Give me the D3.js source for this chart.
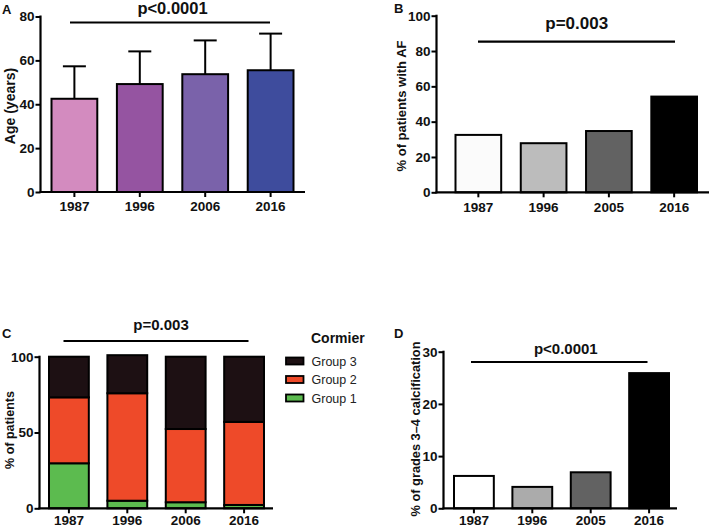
<!DOCTYPE html>
<html><head><meta charset="utf-8">
<script src="https://cdn.jsdelivr.net/npm/d3@7"></script>
<style>
html,body{margin:0;padding:0;background:#fff;}
svg{display:block;font-family:"Liberation Sans",Arial,sans-serif;}
</style></head>
<body>
<svg id="chart" width="709" height="527"></svg>
<script>
// ---- Data ----
const yearsA = ["1987", "1996", "2006", "2016"];
const ageMean = [42.5, 49.2, 53.7, 55.5];
const ageSD = [14.8, 14.9, 15.4, 16.7];
const colorsA = ["#d38bbf", "#9554a1", "#7a62aa", "#3e4c9d"];

const yearsB = ["1987", "1996", "2005", "2016"];
const afPct = [32.5, 27.8, 34.7, 54.2];
const colorsB = ["#fbfbfb", "#bcbcbc", "#626262", "#000000"];

const yearsC = ["1987", "1996", "2006", "2016"];
const group1 = [29.7, 5.0, 4.0, 2.2];
const group2 = [43.5, 70.9, 48.3, 54.8];
const group3 = [26.8, 25.1, 47.7, 43.0];
const groupNames = ["Group 1", "Group 2", "Group 3"];
const groupColors = ["#5cbb4f", "#ee4a29", "#1d1013"];

const yearsD = ["1987", "1996", "2005", "2016"];
const calcPct = [6.2, 4.1, 6.9, 25.9];
const colorsD = ["#ffffff", "#ababab", "#626262", "#000000"];

const ticksA = [0, 20, 40, 60, 80];
const ticksB = [0, 20, 40, 60, 80, 100];
const ticksC = [0, 50, 100];
const ticksD = [0, 10, 20, 30];

// ---- Drawing ----
const svg = d3.select("#chart");

function drawAxes(g, x, y, yTicks, axisX, axisEnd, y0, xPad) {
  const ya = g.append("g").attr("transform", `translate(${axisX},0)`)
    .call(d3.axisLeft(y).tickValues(yTicks).tickSize(5).tickSizeOuter(0).tickPadding(1));
  ya.select(".domain").remove();
  ya.selectAll(".tick line").attr("stroke", "#000").attr("stroke-width", 2);
  ya.selectAll(".tick text").attr("font-size", 13.5).attr("font-weight", "bold").attr("fill", "#111");
  g.append("line").attr("x1", axisX).attr("x2", axisX)
    .attr("y1", y(y.domain()[1]) - 1).attr("y2", y0 + 1)
    .attr("stroke", "#000").attr("stroke-width", 2.2);
  const xa = g.append("g").attr("transform", `translate(0,${y0})`)
    .call(d3.axisBottom(x).tickSize(5).tickSizeOuter(0).tickPadding(xPad));
  xa.select(".domain").remove();
  xa.selectAll(".tick line").attr("stroke", "#000").attr("stroke-width", 2);
  xa.selectAll(".tick text").attr("font-size", 13.5).attr("font-weight", "bold").attr("fill", "#111");
  g.append("line").attr("x1", axisX - 1).attr("x2", axisEnd)
    .attr("y1", y0).attr("y2", y0)
    .attr("stroke", "#000").attr("stroke-width", 2.2);
}

function sigBar(g, x1, x2, yLine, label, lx, ly, fs) {
  g.append("line").attr("x1", x1).attr("x2", x2).attr("y1", yLine).attr("y2", yLine)
    .attr("stroke", "#000").attr("stroke-width", 2.2);
  g.append("text").attr("x", lx).attr("y", ly).attr("text-anchor", "middle")
    .attr("font-size", fs).attr("font-weight", "bold").attr("fill", "#111").text(label);
}

function yTitle(g, cx, cy, label, fs) {
  g.append("text").attr("transform", `translate(${cx},${cy}) rotate(-90)`)
    .attr("text-anchor", "middle").attr("dominant-baseline", "central")
    .attr("font-size", fs).attr("font-weight", "bold").attr("fill", "#111").text(label);
}

function panelLabel(g, x, y, t) {
  g.append("text").attr("x", x).attr("y", y).attr("font-size", 13).attr("font-weight", "bold")
    .attr("fill", "#111").text(t);
}

// ---- Panel A ----
{
  const g = svg.append("g");
  const x = d3.scaleBand().domain(yearsA).range([51.5, 293.5]).paddingInner(0.3).paddingOuter(0);
  const y = d3.scaleLinear().domain([0, 80]).range([192, 16.5]);
  const bw = x.bandwidth();
  yearsA.forEach((yr, i) => {
    const cx = x(yr) + bw / 2;
    g.append("line").attr("x1", cx).attr("x2", cx).attr("y1", y(ageMean[i])).attr("y2", y(ageMean[i] + ageSD[i]))
      .attr("stroke", "#000").attr("stroke-width", 2);
    g.append("line").attr("x1", cx - 11.5).attr("x2", cx + 11.5)
      .attr("y1", y(ageMean[i] + ageSD[i])).attr("y2", y(ageMean[i] + ageSD[i]))
      .attr("stroke", "#000").attr("stroke-width", 2);
  });
  g.selectAll("rect").data(yearsA).join("rect")
    .attr("x", d => x(d)).attr("width", bw)
    .attr("y", (d, i) => y(ageMean[i])).attr("height", (d, i) => y(0) - y(ageMean[i]))
    .attr("fill", (d, i) => colorsA[i]).attr("stroke", "#000").attr("stroke-width", 2);
  drawAxes(g, x, y, ticksA, 40.5, 305, 192, 4);
  sigBar(g, 70, 270, 22.5, "p<0.0001", 172.5, 14, 16.5);
  yTitle(g, 10, 106, "Age (years)", 14);
  panelLabel(g, 2, 13.5, "A");
}

// ---- Panel B ----
{
  const g = svg.append("g");
  const x = d3.scaleBand().domain(yearsB).range([455.5, 697]).paddingInner(0.3).paddingOuter(0);
  const y = d3.scaleLinear().domain([0, 100]).range([192.3, 15.7]);
  const bw = x.bandwidth();
  g.selectAll("rect").data(yearsB).join("rect")
    .attr("x", d => x(d)).attr("width", bw)
    .attr("y", (d, i) => y(afPct[i])).attr("height", (d, i) => y(0) - y(afPct[i]))
    .attr("fill", (d, i) => colorsB[i]).attr("stroke", "#000").attr("stroke-width", 2);
  drawAxes(g, x, y, ticksB, 436.5, 709, 192.3, 5);
  sigBar(g, 478, 675, 41.7, "p=0.003", 576.7, 28.5, 17);
  yTitle(g, 401.7, 106, "% of patients with AF", 13);
  panelLabel(g, 394, 12.5, "B");
}

// ---- Panel C ----
{
  const g = svg.append("g");
  const x = d3.scaleBand().domain(yearsC).range([49, 264]).paddingInner(0.318).paddingOuter(0);
  const y = d3.scaleLinear().domain([0, 100]).range([508.3, 356.7]);
  const bw = x.bandwidth();
  const rows = yearsC.map((yr, i) => ({ year: yr, g1: group1[i], g2: group2[i], g3: group3[i] }));
  const stack = d3.stack().keys(["g1", "g2", "g3"])(rows);
  g.selectAll("g.layer").data(stack).join("g").attr("class", "layer")
    .attr("fill", (d, i) => groupColors[i])
    .selectAll("rect").data(d => d).join("rect")
    .attr("x", d => x(d.data.year)).attr("width", bw)
    .attr("y", d => y(d[1])).attr("height", d => y(d[0]) - y(d[1]))
    .attr("stroke", "#000").attr("stroke-width", 2);
  drawAxes(g, x, y, ticksC, 39.5, 273, 508.3, 2);
  sigBar(g, 63.5, 248.5, 341, "p=0.003", 161, 330, 15);
  yTitle(g, 10, 430, "% of patients", 12.5);
  panelLabel(g, 2, 338, "C");
  g.append("text").attr("x", 311).attr("y", 342.5).attr("font-size", 14).attr("font-weight", "bold")
    .attr("fill", "#111").text("Cormier");
  const order = [2, 1, 0];
  order.forEach((k, j) => {
    const ly = 357.5 + j * 18.5;
    g.append("rect").attr("x", 286).attr("y", ly).attr("width", 17.5).attr("height", 7)
      .attr("fill", groupColors[k]).attr("stroke", "#000").attr("stroke-width", 1.8);
    g.append("text").attr("x", 311.5).attr("y", ly + 8).attr("font-size", 12.5)
      .attr("fill", "#222").text(groupNames[k]);
  });
}

// ---- Panel D ----
{
  const g = svg.append("g");
  const x = d3.scaleBand().domain(yearsD).range([454, 669]).paddingInner(0.318).paddingOuter(0);
  const y = d3.scaleLinear().domain([0, 30]).range([508.3, 351.7]);
  const bw = x.bandwidth();
  g.selectAll("rect").data(yearsD).join("rect")
    .attr("x", d => x(d)).attr("width", bw)
    .attr("y", (d, i) => y(calcPct[i])).attr("height", (d, i) => y(0) - y(calcPct[i]))
    .attr("fill", (d, i) => colorsD[i]).attr("stroke", "#000").attr("stroke-width", 2);
  drawAxes(g, x, y, ticksD, 443.5, 677, 508.3, 2);
  sigBar(g, 471, 647.5, 362, "p<0.0001", 565.8, 353.5, 15);
  yTitle(g, 415, 429, "% of grades 3–4 calcification", 12.8);
  panelLabel(g, 394, 338, "D");
}
</script>
</body></html>
